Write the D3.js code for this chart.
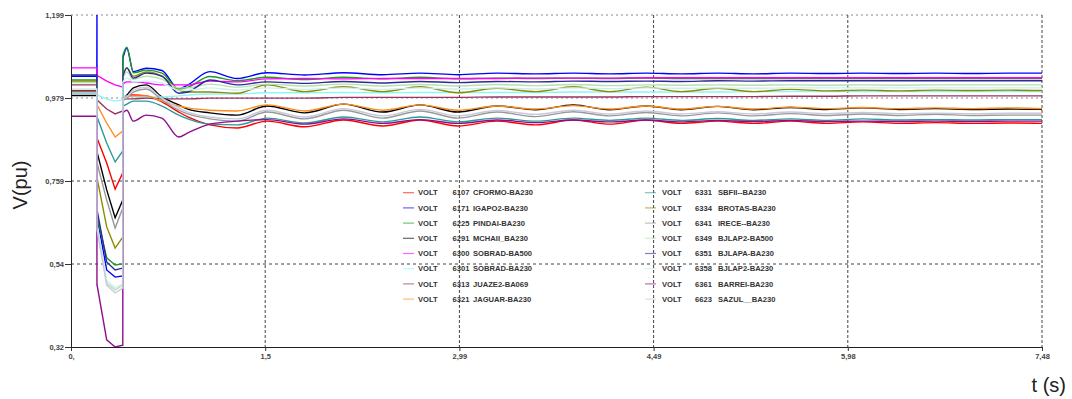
<!DOCTYPE html>
<html><head><meta charset="utf-8">
<script src="https://cdn.jsdelivr.net/npm/d3@7"></script>
<style>
body{margin:0;background:#fff;}
svg{display:block;font-family:"Liberation Sans",Arial,sans-serif;}
</style>
</head><body>
<svg id="c" width="1072" height="399"></svg>
<script>
// ---------------- DATA ----------------
const times = [0,0.199,0.2,0.201, 0.275,0.34,0.399,0.4, 0.43,0.48,0.58,0.7, 0.83,0.9,1.07,1.28, 1.51,1.8,2.1,2.4, 2.69,2.98,3.28,3.58, 3.87,4.15,4.43,4.7, 4.98,5.26,5.54,5.82, 6.1,6.38,6.66,6.94, 7.22,7.48];

const xTickValues = [0,1.496,2.992,4.488,5.984,7.48];
const xTickLabels = ["0,","1,5","2,99","4,49","5,98","7,48"];
const yTickValues = [0.32,0.53975,0.7595,0.97925,1.199];
const yTickLabels = ["0,32","0,54","0,759","0,979","1,199"];

const busNumbers = ["6107","6171","6225","6291","6300","6301","6313","6321","6331","6334","6341","6349","6351","6358","6361","6623"];
const busNames = ["CFORMO-BA230","IGAPO2-BA230","PINDAI-BA230","MCHAII_BA230","SOBRAD-BA500","SOBRAD-BA230","JUAZE2-BA069","JAGUAR-BA230","SBFII--BA230","BROTAS-BA230","IRECE--BA230","BJLAP2-BA500","BJLAPA-BA230","BJLAP2-BA230","BARREI-BA230","SAZUL__BA230"];

const v6107 = [0.999,0.999,0.873,0.873, 0.807,0.738,0.781,0.977, 0.985,0.987,0.985,0.969, 0.942,0.929,0.908,0.900, 0.918,0.903,0.921,0.905, 0.921,0.905,0.918,0.908, 0.921,0.910,0.921,0.912, 0.918,0.912,0.918,0.912, 0.916,0.912,0.914,0.912, 0.913,0.912];
const v6171 = [1.037,1.037,1.199,0.664, 0.524,0.505,0.508,1.085, 1.111,1.049,1.058,1.052, 1.003,1.014,1.049,1.031, 1.046,1.040,1.046,1.041, 1.045,1.041,1.045,1.043, 1.045,1.043,1.045,1.043, 1.045,1.043,1.045,1.044, 1.045,1.044,1.045,1.044, 1.045,1.045];
const v6225 = [1.027,1.027,0.664,0.664, 0.556,0.537,0.540,1.093, 1.114,1.046,1.053,1.045, 1.003,1.008,1.036,1.025, 1.034,1.028,1.034,1.030, 1.034,1.030,1.032,1.031, 1.032,1.031,1.032,1.031, 1.031,1.031,1.031,1.031, 1.031,1.031,1.031,1.031, 1.031,1.031];
const v6291 = [0.986,0.986,0.836,0.836, 0.736,0.662,0.709,0.979, 0.987,1.006,1.014,0.982, 0.961,0.950,0.940,0.934, 0.958,0.940,0.963,0.942, 0.961,0.942,0.958,0.948, 0.961,0.948,0.958,0.948, 0.957,0.948,0.954,0.949, 0.953,0.949,0.951,0.949, 0.950,0.949];
const v6300 = [1.059,1.059,1.039,1.039, 1.024,1.014,1.008,1.016, 1.022,1.022,1.019,1.014, 1.014,1.014,1.024,1.022, 1.030,1.031,1.030,1.031, 1.031,1.031,1.031,1.032, 1.032,1.032,1.033,1.033, 1.033,1.033,1.033,1.033, 1.033,1.033,1.033,1.033, 1.033,1.033];
const v6301 = [0.994,0.994,0.987,0.987, 0.977,0.971,0.974,0.982, 0.985,0.982,0.982,0.982, 0.985,0.987,0.990,0.990, 0.993,0.993,0.994,0.993, 0.994,0.994,0.994,0.994, 0.995,0.995,0.995,0.995, 0.995,0.996,0.996,0.996, 0.996,0.996,0.996,0.996, 0.996,0.996];
const v6313 = [1.014,1.014,0.974,0.974, 0.950,0.937,0.945,0.974, 0.977,0.977,0.979,0.977, 0.977,0.977,0.979,0.979, 0.979,0.979,0.981,0.981, 0.981,0.981,0.982,0.982, 0.982,0.982,0.983,0.983, 0.983,0.983,0.984,0.984, 0.985,0.985,0.985,0.985, 0.985,0.985];
const v6321 = [0.990,0.990,0.961,0.961, 0.913,0.876,0.892,0.977, 0.982,0.985,0.985,0.971, 0.958,0.953,0.947,0.945, 0.961,0.945,0.963,0.947, 0.961,0.947,0.958,0.950, 0.959,0.950,0.958,0.950, 0.957,0.950,0.955,0.951, 0.954,0.951,0.953,0.951, 0.953,0.951];
const v6331 = [0.996,0.996,0.929,0.929, 0.860,0.810,0.839,0.958, 0.963,0.971,0.971,0.958, 0.934,0.924,0.910,0.908, 0.926,0.913,0.929,0.916, 0.929,0.916,0.926,0.918, 0.926,0.920,0.926,0.920, 0.925,0.920,0.924,0.920, 0.924,0.921,0.922,0.921, 0.922,0.922];
const v6334 = [1.024,1.024,0.767,0.767, 0.638,0.582,0.611,1.040, 1.059,1.037,1.048,1.037, 1.000,0.995,0.995,0.992, 1.014,0.996,1.009,0.996, 1.009,0.993,1.005,0.996, 1.009,0.996,1.008,0.996, 1.005,0.996,1.002,0.998, 1.000,0.998,1.000,0.999, 1.000,0.999];
const v6341 = [0.989,0.989,0.807,0.807, 0.709,0.635,0.688,0.974, 0.979,0.995,1.003,0.974, 0.947,0.937,0.924,0.918, 0.942,0.924,0.947,0.926, 0.945,0.926,0.942,0.930, 0.943,0.932,0.941,0.932, 0.940,0.932,0.938,0.933, 0.937,0.933,0.936,0.933, 0.934,0.934];
const v6349 = [1.020,1.020,0.635,0.635, 0.489,0.471,0.484,1.032, 1.048,1.029,1.037,1.029, 1.006,1.006,1.016,1.008, 1.016,1.011,1.016,1.011, 1.015,1.011,1.015,1.012, 1.015,1.012,1.014,1.013, 1.014,1.013,1.014,1.013, 1.014,1.013,1.014,1.014, 1.014,1.014];
const v6351 = [1.040,1.040,0.683,0.683, 0.545,0.524,0.529,1.037, 1.059,1.032,1.045,1.037, 0.992,0.995,1.027,1.014, 1.022,1.018,1.023,1.019, 1.023,1.020,1.023,1.022, 1.024,1.023,1.024,1.023, 1.025,1.024,1.025,1.025, 1.025,1.025,1.025,1.025, 1.025,1.025];
const v6358 = [1.003,1.003,0.643,0.643, 0.497,0.476,0.487,1.022, 1.032,1.022,1.024,1.019, 1.000,1.000,1.006,1.000, 1.006,1.002,1.006,1.002, 1.006,1.003,1.006,1.003, 1.006,1.004,1.006,1.005, 1.006,1.005,1.006,1.006, 1.006,1.006,1.006,1.006, 1.006,1.006];
const v6361 = [0.931,0.931,0.484,0.484, 0.339,0.320,0.325,0.940, 0.947,0.918,0.934,0.926, 0.876,0.887,0.910,0.918, 0.922,0.910,0.924,0.912, 0.922,0.912,0.921,0.914, 0.921,0.916,0.921,0.916, 0.920,0.917,0.920,0.917, 0.918,0.917,0.918,0.917, 0.918,0.918];
const v6623 = [0.990,0.990,0.630,0.630, 0.484,0.463,0.476,0.977, 0.982,1.000,1.008,0.979, 0.953,0.942,0.929,0.924, 0.947,0.929,0.951,0.932, 0.949,0.932,0.946,0.936, 0.947,0.937,0.945,0.937, 0.943,0.937,0.942,0.938, 0.941,0.938,0.939,0.938, 0.939,0.939];

const seriesValues = [v6107,v6171,v6225,v6291,v6300,v6301,v6313,v6321,v6331,v6334,v6341,v6349,v6351,v6358,v6361,v6623];
const seriesColors = ["#ff0000","#0000ff","#1f991f","#000000","#ff00ff","#8ff5f5","#993366","#ff8c1a","#2a9a9a","#8c8c00","#999999","#b8e0b0","#2a2a99","#c8f0f0","#8c108c","#c8c8dc"];

// ---------------- CHART ----------------
const svg = d3.select("#c");
const x = d3.scaleLinear().domain([0,7.48]).range([71,1042]);
const y = d3.scaleLinear().domain([0.32,1.199]).range([347,15]);

// grid
const grid = svg.append("g");
grid.selectAll("line.h").data(yTickValues.slice(1)).join("line")
  .attr("x1",x(0)).attr("x2",x(7.48))
  .attr("y1",d=>y(d)).attr("y2",d=>y(d))
  .attr("stroke",d=> d>0.9 ? "#888" : "#444")
  .attr("stroke-width",1)
  .attr("stroke-dasharray",d=> d>0.9 ? "2,3" : "3,3");
grid.selectAll("line.v").data(xTickValues.slice(1)).join("line")
  .attr("x1",d=>x(d)).attr("x2",d=>x(d))
  .attr("y1",y(1.199)).attr("y2",y(0.32))
  .attr("stroke","#444").attr("stroke-width",1)
  .attr("stroke-dasharray","3,2");

// series
const lineLin = d3.line().x(d=>x(d[0])).y(d=>y(d[1])).curve(d3.curveLinear);
const lineMono = d3.line().x(d=>x(d[0])).y(d=>y(d[1])).curve(d3.curveMonotoneX);
const plot = svg.append("g");
seriesValues.forEach((vals,i)=>{
  const pts = times.map((t,k)=>[t,vals[k]]);
  plot.append("path").attr("d",lineLin(pts.slice(0,8)))
    .attr("fill","none").attr("stroke",seriesColors[i]).attr("stroke-width",1.4);
  plot.append("path").attr("d",lineMono(pts.slice(7)))
    .attr("fill","none").attr("stroke",seriesColors[i]).attr("stroke-width",1.4);
});

// axes
const xAxis = d3.axisBottom(x).tickValues(xTickValues).tickFormat((d,i)=>xTickLabels[i])
  .tickSize(4).tickSizeOuter(0).tickPadding(3);
const yAxis = d3.axisLeft(y).tickValues(yTickValues).tickFormat((d,i)=>yTickLabels[i])
  .tickSize(6).tickSizeOuter(0).tickPadding(1);
const gx = svg.append("g").attr("transform","translate(0,347)").call(xAxis);
const gy = svg.append("g").attr("transform","translate(71,0)").call(yAxis);
[gx,gy].forEach(g=>{
  g.select(".domain").attr("stroke","#222");
  g.selectAll(".tick line").attr("stroke","#333");
  g.selectAll(".tick text").attr("fill","#444").attr("font-size","7.5px")
    .attr("font-weight","bold").attr("font-family","'Liberation Sans',Arial,sans-serif");
});

// axis titles
svg.append("text").attr("transform","translate(27,185) rotate(-90)")
  .attr("text-anchor","middle").attr("font-size","20px").attr("fill","#222").text("V(pu)");
svg.append("text").attr("x",1066).attr("y",392).attr("text-anchor","end")
  .attr("font-size","20px").attr("fill","#222").text("t (s)");

// legend
const leg = svg.append("g").attr("font-size","7.6px").attr("font-weight","bold").attr("fill","#333");
const colX = [[403,418,452.5,473],[645,662,695,718]];
busNumbers.forEach((num,i)=>{
  const c = colX[Math.floor(i/8)];
  const cy = 192.7 + (i%8)*15.2;
  leg.append("line").attr("x1",c[0]).attr("x2",c[0]+11).attr("y1",cy).attr("y2",cy)
    .attr("stroke",seriesColors[i]).attr("stroke-width",1.2).attr("opacity",0.6);
  leg.append("text").attr("x",c[1]).attr("y",cy+2.7).text("VOLT");
  leg.append("text").attr("x",c[2]).attr("y",cy+2.7).text(num);
  leg.append("text").attr("x",c[3]).attr("y",cy+2.7).text(busNames[i]);
});
</script>
</body></html>
